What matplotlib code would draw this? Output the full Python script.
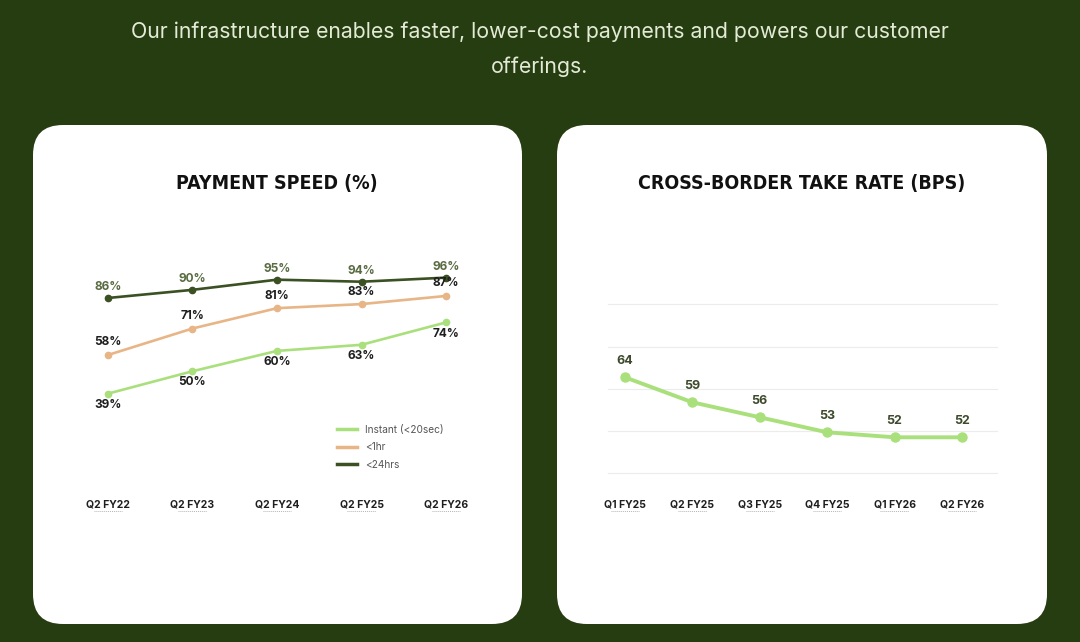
import matplotlib
matplotlib.use("Agg")
import matplotlib.pyplot as plt
import numpy as np
from matplotlib.patches import FancyBboxPatch
from matplotlib.lines import Line2D
from matplotlib.transforms import offset_copy

# ---- data ----
speed_periods = ["Q2 FY22", "Q2 FY23", "Q2 FY24", "Q2 FY25", "Q2 FY26"]
instant = [39, 50, 60, 63, 74]
one_hr = [58, 71, 81, 83, 87]
day = [86, 90, 95, 94, 96]
speed_series_names = ["Instant (<20sec)", "<1hr", "<24hrs"]

take_periods = ["Q1 FY25", "Q2 FY25", "Q3 FY25", "Q4 FY25", "Q1 FY26", "Q2 FY26"]
take_rate = [64, 59, 56, 53, 52, 52]

subtitle = "Our infrastructure enables faster, lower-cost payments and powers our customer\nofferings."
title_left = "PAYMENT SPEED (%)"
title_right = "CROSS-BORDER TAKE RATE (BPS)"

# ---- styles ----
BG = "#263d11"
C_INSTANT = "#a9e07c"
C_HR = "#e8b587"
C_DAY = "#3b5023"
C_DAYLBL = "#5a6c42"
C_TXT = "#1e1e1e"
FONT = ["Inter", "DejaVu Sans"]

W, H = 1080, 642
fig = plt.figure(figsize=(W / 100, H / 100), dpi=100)
fig.patch.set_facecolor(BG)

# background axes in pixel coords
bg = fig.add_axes([0, 0, 1, 1])
bg.set_xlim(0, W)
bg.set_ylim(H, 0)
bg.axis("off")
for x0, x1 in [(33, 522), (557, 1047)]:
    r = 30
    bg.add_patch(FancyBboxPatch((x0 + r, 125 + r), (x1 - x0) - 2 * r, (624 - 125) - 2 * r,
                                boxstyle=f"round,pad={r}", fc="white", ec="none"))
bg.text(540, 49.5, subtitle, ha="center", va="center", color="#e3ebd6",
        fontsize=15.3, family=FONT, linespacing=1.85)
bg.text(277, 184, title_left, ha="center", va="center", color="#111111",
        fontsize=14, fontweight="heavy", fontstretch="condensed", family="DejaVu Sans")
bg.text(802, 184, title_right, ha="center", va="center", color="#111111",
        fontsize=14, fontweight="heavy", fontstretch="condensed", family="DejaVu Sans")


def style_axes(ax, labels, half):
    ax.set_facecolor("none")
    for s in ax.spines.values():
        s.set_visible(False)
    ax.set_xticks(range(len(labels)))
    ax.set_xticklabels(labels, fontsize=7.5, fontweight="bold", color=C_TXT, family=FONT)
    ax.tick_params(axis="x", length=0, pad=19)
    trans = offset_copy(ax.get_xaxis_transform(), fig=fig, y=-27.5, units="points")
    for i in range(len(labels)):
        ax.plot([i - half, i + half], [0, 0], transform=trans, ls=(0, (1, 1)),
                lw=0.7, color="#b5b5b5", clip_on=False)


# ---- left chart ----
axL = fig.add_axes([78.4 / W, (H - 473) / H, 397.2 / W, 203.5 / H])
x = np.arange(len(speed_periods))
axL.plot(x, instant, color=C_INSTANT, lw=1.9, marker="o", ms=4.5)
axL.plot(x, one_hr, color=C_HR, lw=1.9, marker="o", ms=4.5)
axL.plot(x, day, color=C_DAY, lw=1.9, marker="o", ms=4.5)
axL.set_xlim(-0.35, 4.35)
axL.set_ylim(0, 100)
axL.set_yticks([])
style_axes(axL, speed_periods, 0.17)

for xi, v in zip(x, instant):
    axL.annotate(f"{v}%", (xi, v), xytext=(0, -8), textcoords="offset points",
                 ha="center", va="center", fontsize=8.5, fontweight="bold", color=C_TXT, family=FONT)
for xi, v in zip(x, one_hr):
    axL.annotate(f"{v}%", (xi, v), xytext=(0, 9), textcoords="offset points",
                 ha="center", va="center", fontsize=8.5, fontweight="bold", color=C_TXT, family=FONT)
for xi, v in zip(x, day):
    axL.annotate(f"{v}%", (xi, v), xytext=(0, 8), textcoords="offset points",
                 ha="center", va="center", fontsize=8.5, fontweight="bold", color=C_DAYLBL, family=FONT)

handles = [Line2D([], [], color=c, lw=2.5) for c in (C_INSTANT, C_HR, C_DAY)]
leg = axL.legend(handles, speed_series_names, loc="upper left",
                 bbox_to_anchor=(337 / W, 1 - 425 / H), bbox_transform=fig.transFigure,
                 frameon=False, handlelength=2.0, handletextpad=0.75,
                 labelspacing=0.72, borderpad=0, borderaxespad=0,
                 prop={"family": FONT, "size": 7.3})
for t in leg.get_texts():
    t.set_color("#555555")

# ---- right chart ----
axR = fig.add_axes([608 / W, (H - 473.3) / H, 389 / W, 169 / H])
xr = np.arange(len(take_periods))
axR.plot(xr, take_rate, color=C_INSTANT, lw=2.8, marker="o", ms=6.5, zorder=3)
axR.set_xlim(-0.252, 5.52)
axR.set_ylim(44.8, 78.6)
axR.set_yticks(np.linspace(44.8, 78.6, 5))
axR.set_yticklabels([])
axR.tick_params(axis="y", length=0)
axR.grid(axis="y", color="#ececec", lw=0.8)
for gl in axR.get_ygridlines():
    gl.set_clip_on(False)
axR.set_axisbelow(True)
style_axes(axR, take_periods, 0.21)
for xi, v in zip(xr, take_rate):
    axR.annotate(f"{v}", (xi, v), xytext=(0, 11.5), textcoords="offset points",
                 ha="center", va="center", fontsize=9, fontweight="bold", color="#3d4a2c", family=FONT)

fig.savefig("out.png", dpi=100, facecolor=BG)
